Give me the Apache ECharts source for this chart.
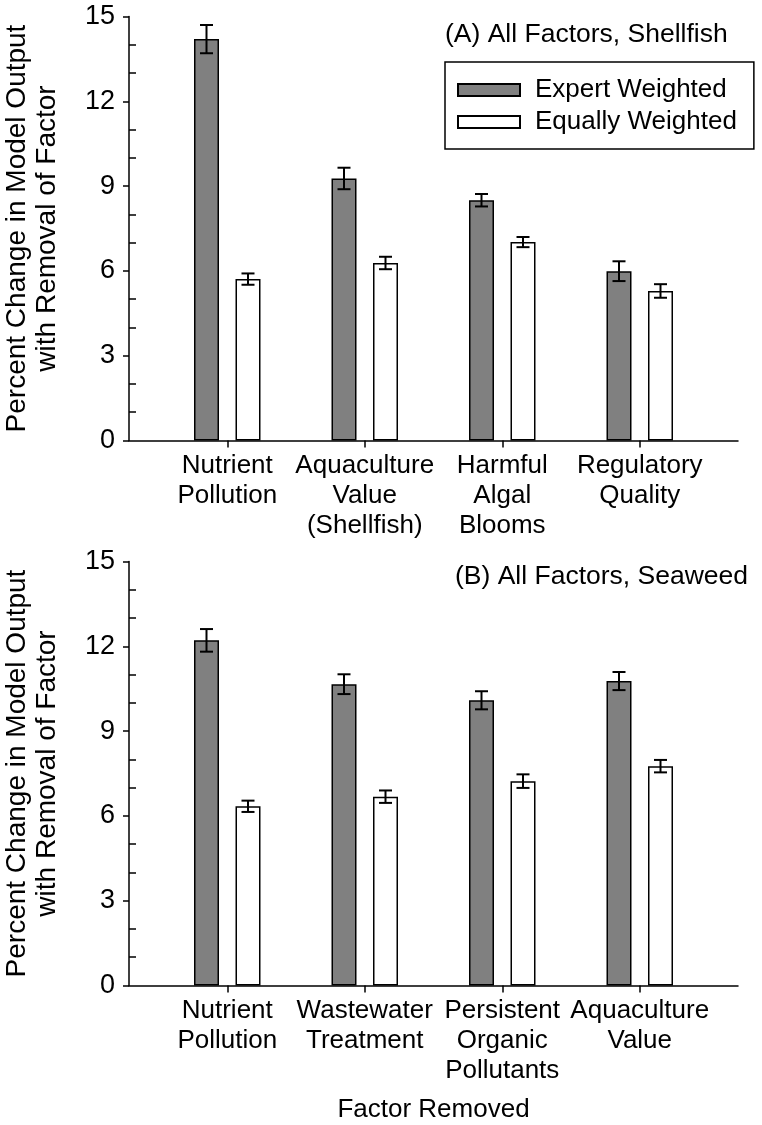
<!DOCTYPE html>
<html>
<head>
<meta charset="utf-8">
<script src="https://cdn.jsdelivr.net/npm/echarts@6/dist/echarts.min.js"></script>
<style>html,body{margin:0;padding:0;background:#fff}#c{width:762px;height:1125px}</style>
</head>
<body>
<div id="c"></div>
<script>
// ---- data ----
const catsA = ['Nutrient\nPollution', 'Aquaculture\nValue\n(Shellfish)', 'Harmful\nAlgal\nBlooms', 'Regulatory\nQuality'];
const expertA = [14.2, 9.27, 8.5, 5.99];
const expertErrA = [0.5, 0.38, 0.22, 0.35];
const equalA = [5.71, 6.28, 7.02, 5.29];
const equalErrA = [0.2, 0.22, 0.18, 0.24];

const catsB = ['Nutrient\nPollution', 'Wastewater\nTreatment', 'Persistent\nOrganic\nPollutants', 'Aquaculture\nValue'];
const expertB = [12.21, 10.66, 10.09, 10.77];
const expertErrB = [0.4, 0.35, 0.32, 0.32];
const equalB = [6.34, 6.68, 7.23, 7.76];
const equalErrB = [0.2, 0.22, 0.24, 0.22];

const yTicks = { min: 0, max: 15, interval: 3 };
const titleA = '(A) All Factors, Shellfish';
const titleB = '(B) All Factors, Seaweed';
const yName = 'Percent Change in Model Output\nwith Removal of Factor';
const xName = 'Factor Removed';
const seriesNames = ['Expert Weighted', 'Equally Weighted'];

// ---- styles ----
const FONT = "'Liberation Sans', Arial, sans-serif";
const BAR_W = 25, BAR_GAP_PX = 16.5;
const OFF = (BAR_W + BAR_GAP_PX) / 2;

const chart = echarts.init(document.getElementById('c'), null, { renderer: 'canvas' });

function errRender(offset) {
  return function (params, api) {
    const i = api.value(0), v = api.value(1), e = api.value(2);
    const t = api.coord([i, v + e]);
    const b = api.coord([i, v - e]);
    const x = t[0] + offset, hw = 6.5;
    const st = { stroke: '#000', lineWidth: 2 };
    return {
      type: 'group',
      children: [
        { type: 'line', shape: { x1: x, y1: t[1], x2: x, y2: b[1] }, style: st },
        { type: 'line', shape: { x1: x - hw, y1: t[1], x2: x + hw, y2: t[1] }, style: st },
        { type: 'line', shape: { x1: x - hw, y1: b[1], x2: x + hw, y2: b[1] }, style: st }
      ]
    };
  };
}
function errData(vals, errs) { return vals.map((v, i) => [i, v, errs[i]]); }

function valueY(gridIndex) {
  return {
    gridIndex, type: 'value', min: yTicks.min, max: yTicks.max, interval: yTicks.interval,
    axisLine: { show: true, lineStyle: { color: '#000', width: 1.5 } },
    axisTick: { show: true, length: 6, lineStyle: { color: '#000', width: 1.5 } },
    minorTick: { show: true, splitNumber: 3, length: -7, lineStyle: { color: '#000', width: 1.5 } },
    axisLabel: { color: '#000', fontSize: 27, fontFamily: FONT, margin: 14 },
    splitLine: { show: false },
    name: yName, nameLocation: 'middle', nameGap: 67, nameRotate: 90,
    nameTextStyle: { color: '#000', fontSize: 28, fontFamily: FONT, lineHeight: 30 }
  };
}
function hiddenY(gridIndex) {
  return { gridIndex, type: 'value', min: yTicks.min, max: yTicks.max, show: false };
}
function dummyX(gridIndex, name) {
  return {
    gridIndex, type: 'value', min: 0, max: 1,
    axisLine: { show: true, onZero: false, lineStyle: { color: '#000', width: 1.5 } },
    axisTick: { show: false }, axisLabel: { show: false }, splitLine: { show: false },
    name: name || '', nameLocation: 'middle', nameGap: 111,
    nameTextStyle: { color: '#000', fontSize: 26, fontFamily: FONT }
  };
}
function catX(gridIndex, cats) {
  return {
    gridIndex, type: 'category', data: cats,
    axisLine: { show: false },
    axisTick: { show: true, alignWithLabel: true, length: 7, lineStyle: { color: '#000', width: 1.5 } },
    axisLabel: { color: '#000', fontSize: 26, fontFamily: FONT, lineHeight: 30, margin: 10, interval: 0 }
  };
}
function barSeries(xi, name, data, color) {
  return {
    type: 'bar', name, xAxisIndex: xi, yAxisIndex: xi, data,
    barWidth: BAR_W, barGap: (BAR_GAP_PX / BAR_W * 100) + '%',
    itemStyle: { color, borderColor: '#000', borderWidth: 1.5 },
    emphasis: { disabled: true }
  };
}
function errSeries(xi, vals, errs, offset) {
  return {
    type: 'custom', xAxisIndex: xi, yAxisIndex: xi, z: 5,
    data: errData(vals, errs), renderItem: errRender(offset),
    encode: { x: 0, y: 1 }
  };
}
function grid(left, top, width) {
  return { left, top, width, height: 424, containLabel: false, outerBoundsMode: 'none' };
}

const option = {
  animation: false,
  backgroundColor: '#fff',
  textStyle: { fontFamily: FONT },
  title: [
    { text: titleA, left: 445, top: 21, padding: 0, textStyle: { color: '#000', fontSize: 26.5, fontWeight: 'normal', fontFamily: FONT } },
    { text: titleB, left: 455, top: 563, padding: 0, textStyle: { color: '#000', fontSize: 26.5, fontWeight: 'normal', fontFamily: FONT } }
  ],
  legend: {
    data: seriesNames, orient: 'vertical', left: 445, top: 62,
    padding: [15, 17, 14, 12], itemGap: 6, itemWidth: 62, itemHeight: 12,
    borderColor: '#000', borderWidth: 1.5, borderRadius: 0,
    icon: 'rect',
    textStyle: { color: '#000', fontSize: 26, fontFamily: FONT, padding: [0, 0, 0, 10] }
  },
  grid: [
    grid(129, 16.5, 609),
    grid(158.5, 16.5, 550),
    grid(129, 561.5, 609),
    grid(158.5, 561.5, 550)
  ],
  xAxis: [dummyX(0), catX(1, catsA), dummyX(2, xName), catX(3, catsB)],
  yAxis: [valueY(0), hiddenY(1), valueY(2), hiddenY(3)],
  series: [
    barSeries(1, seriesNames[0], expertA, '#808080'),
    barSeries(1, seriesNames[1], equalA, '#ffffff'),
    errSeries(1, expertA, expertErrA, -OFF),
    errSeries(1, equalA, equalErrA, OFF),
    barSeries(3, seriesNames[0], expertB, '#808080'),
    barSeries(3, seriesNames[1], equalB, '#ffffff'),
    errSeries(3, expertB, expertErrB, -OFF),
    errSeries(3, equalB, equalErrB, OFF)
  ]
};
chart.setOption(option);
</script>
</body>
</html>
